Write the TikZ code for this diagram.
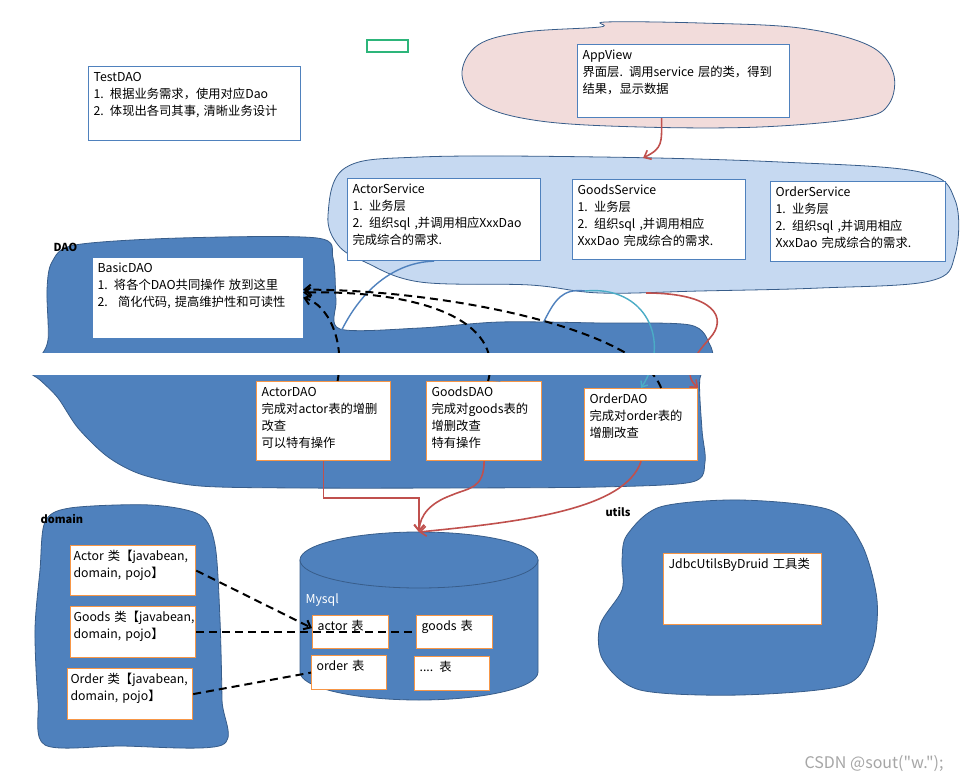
\documentclass[tikz,border=0pt]{standalone}
\usepackage{fontspec}
\setmainfont{Noto Sans CJK SC}
\newfontfamily\markfont[Ligatures=TeXOff]{Noto Sans CJK SC}
\usetikzlibrary{arrows.meta}
\definecolor{blobdark}{HTML}{4F81BD}
\definecolor{blobline}{HTML}{385D8A}
\definecolor{svcfill}{HTML}{C6D9F1}
\definecolor{viewfill}{HTML}{F2DCDB}
\definecolor{boxblue}{HTML}{4F81BD}
\definecolor{boxorange}{HTML}{F79646}
\definecolor{arrowred}{HTML}{C0504D}
\definecolor{arccyan}{HTML}{4BACC6}
\definecolor{marker}{HTML}{2DB57A}

\begin{document}
\begin{tikzpicture}[x=1pt,y=-1pt,font=\fontsize{12.3}{17}\selectfont,
    card/.style={draw=boxblue,line width=1.2pt,fill=white,anchor=north west,align=left,
      inner xsep=5pt,inner ysep=4pt,text height=11pt},
    tab/.style={card,draw=boxorange},
    blob/.style={fill=blobdark,draw=blobline,line width=0.8pt},
    flow/.style={arrowred,line width=1.6pt,-{Straight Barb[length=6pt,width=10pt]}},
    link/.style={line width=1.4pt,-{Straight Barb[length=5pt,width=8pt]}},
    dashline/.style={black,line width=2pt,dash pattern=on 8pt off 5pt},
    dashlink/.style={dashline,-{Straight Barb[length=6pt,width=10pt]}},
    tag/.style={font=\fontsize{11}{13}\selectfont\bfseries,anchor=west}]
        \useasboundingbox (0,0) rectangle (961,783);
        \fill[white] (0,0) rectangle (961,783);
        \filldraw[fill=viewfill,draw=blobline,line width=0.8pt] plot[smooth cycle,tension=0.6] coordinates
          {(462,75) (478,45) (525,32) (600,27) (606,22) (700,23) (800,28) (868,45) (893,72)
           (889,104) (860,118) (760,127) (640,127) (540,121) (482,105)};
        \filldraw[fill=svcfill,draw=blobline,line width=0.8pt] plot[smooth cycle,tension=0.6] coordinates
          {(328,215) (345,168) (420,157) (600,157) (780,162) (920,172) (955,200) (955,255)
           (930,281) (820,288) (700,291) (600,293) (530,285) (420,282) (365,262) (338,245)};
        \filldraw[blob] plot[smooth cycle,tension=0.5] coordinates
          {(180,238) (317,238) (333,258) (336,300) (340,329) (420,328) (500,322) (600,323)
           (690,325) (710,345) (713,365) (700,378) (702,430) (705,462) (692,482) (600,487)
           (450,488) (300,488) (200,486) (143,475) (108,457) (78,428) (58,398) (40,380)
           (30,372) (38,360) (48,340) (47,290) (52,262) (75,245)};
        \filldraw[blob] plot[smooth cycle,tension=0.5] coordinates
          {(45,522) (70,508) (150,505) (200,515) (215,545) (220,620) (222,700) (222,745)
           (120,746) (45,745) (38,700) (35,630) (40,570)};
        \filldraw[blob] plot[smooth cycle,tension=0.5] coordinates
          {(627,535) (660,507) (740,500) (830,510) (862,545) (877,600) (872,650) (845,685)
           (740,695) (640,690) (603,660) (600,625) (622,590) (622,560)};
        \filldraw[fill=blobdark,draw=blobline,line width=0.8pt] (300,560) -- (300,672)
          arc[start angle=180,end angle=360,x radius=119pt,y radius=28pt] -- (538,560) -- cycle;
        \filldraw[fill=blobdark,draw=blobline,line width=0.8pt] (419,560) ellipse[x radius=119pt,y radius=28pt];
        \coordinate (dbtop) at (419,532);
        \draw[marker,line width=1.2pt] (367,40) rectangle (408,52);

        \node[card,text width=202pt,text depth=55pt] (test) at (88,66)
          {TestDAO\\1. 根据业务需求，使用对应Dao\\2. 体现出各司其事, 清晰业务设计};
        \node[card,text width=202pt,text depth=54pt] (appview) at (577,44)
          {AppView\\界面层. 调用service 层的类，得到\\结果，显示数据};
        \node[card,text width=183pt,text depth=63pt] (actsvc) at (347,178)
          {ActorService\\1. 业务层\\2. 组织sql ,并调用相应XxxDao\\完成综合的需求.};
        \node[card,text width=163pt,text depth=61pt] (goodssvc) at (572,179)
          {GoodsService\\1. 业务层\\2. 组织sql ,并调用相应\\XxxDao 完成综合的需求.};
        \node[card,text width=165pt,text depth=61pt] (ordsvc) at (770,181)
          {OrderService\\1. 业务层\\2. 组织sql ,并调用相应\\XxxDao 完成综合的需求.};
        \node[card,draw=none,text width=200pt,text depth=61pt] (basic) at (92,257)
          {BasicDAO\\1. 将各个DAO共同操作 放到这里\\2.~ 简化代码, 提高维护性和可读性};
        \node[tab,text width=124pt,text depth=60pt] (actdao) at (256,381)
          {ActorDAO\\完成对actor表的增删\\改查\\可以特有操作};
        \node[tab,text width=105pt,text depth=60pt] (goodsdao) at (426,381)
          {GoodsDAO\\完成对goods表的\\增删改查\\特有操作};
        \node[tab,text width=103pt,text depth=53pt] (orddao) at (584,388)
          {OrderDAO\\完成对order表的\\增删改查};
        \node[tab,inner xsep=3pt,text width=119pt,text depth=31pt] (actcls) at (70,545) {Actor~类【javabean,\\domain, pojo】};
        \node[tab,inner xsep=3pt,text width=119pt,text depth=32pt] (goodscls) at (70,606) {Goods~类【javabean,\\domain, pojo】};
        \node[tab,inner xsep=3pt,text width=119pt,text depth=32pt] (ordcls) at (67,668) {Order~类【javabean,\\domain, pojo】};
        \node[tab,text width=66pt,text depth=14pt] (acttab) at (312,615) {actor 表};
        \node[tab,text width=66pt,text depth=14pt] (goodstab) at (416,615) {goods 表};
        \node[tab,text width=65pt,text depth=15pt] (ordtab) at (311,655) {order 表};
        \node[tab,text width=65pt,text depth=15pt] (moretab) at (414,656) {.... 表};
        \node[tab,text width=148pt,text depth=52pt] (jdbc) at (663,553) {JdbcUtilsByDruid 工具类};

        \node[tag] (daotag) at (50,247) {DAO};
        \node[tag] (domaintag) at (37,519) {domain};
        \node[tag] (utilstag) at (602,512) {utils};
        \node[white,anchor=west] (mysql) at (302,600) {Mysql};

        \coordinate (svcin) at (643,158);
        \coordinate (gsout) at (585,291);
        \coordinate (osout) at (646,293);
        \draw[flow] ([xshift=-22pt]appview.south) .. controls +(0,25) and (663,148) .. (svcin);
        \draw[link,boxblue] ([xshift=-10pt]actsvc.south) .. controls (392,262) and (345,295) .. (actdao.north);
        \draw[link,boxblue] (gsout) .. controls (540,285) and (555,340) .. ([xshift=9pt]goodsdao.north);
        \draw[link,arccyan] (gsout) .. controls (645,285) and (672,340) .. (orddao.north);
        \draw[flow] (osout) .. controls (715,293) and (728,318) .. (710,338)
          .. controls (698,352) and (680,372) .. (orddao.north east);
        \draw[dashlink] ([xshift=14pt]actdao.north) .. controls (345,340) and (328,305) .. (basic.east);
        \draw[dashlink] ([xshift=4pt]goodsdao.north) .. controls (505,320) and (420,290) .. ([yshift=5pt]basic.east);
        \draw[dashlink] ([xshift=20pt]orddao.north) .. controls (640,330) and (450,290) .. ([yshift=8pt]basic.east);
        \draw[flow] (actdao.south) -- ++(0,37) -| (dbtop);
        \draw[flow] (goodsdao.south) .. controls +(0,28) and (468,488) .. (452,495)
          .. controls (430,503) and (420,515) .. (dbtop);
        \draw[flow] (orddao.south) .. controls (625,510) and (520,522) .. (dbtop);
        \draw[dashlink] (actcls.east) -- ([yshift=4pt]acttab.west);
        \draw[dashline] (goodscls.east) -- (goodstab.west);
        \draw[dashline] (ordcls.east) -- (ordtab.west);
        \fill[white] (0,353) rectangle (961,375);

        \node[anchor=east,text=gray!70,font=\markfont\fontsize{16}{18}\selectfont] (mark) at (947,764) {CSDN @sout("w.");};
\end{tikzpicture}
\end{document}
